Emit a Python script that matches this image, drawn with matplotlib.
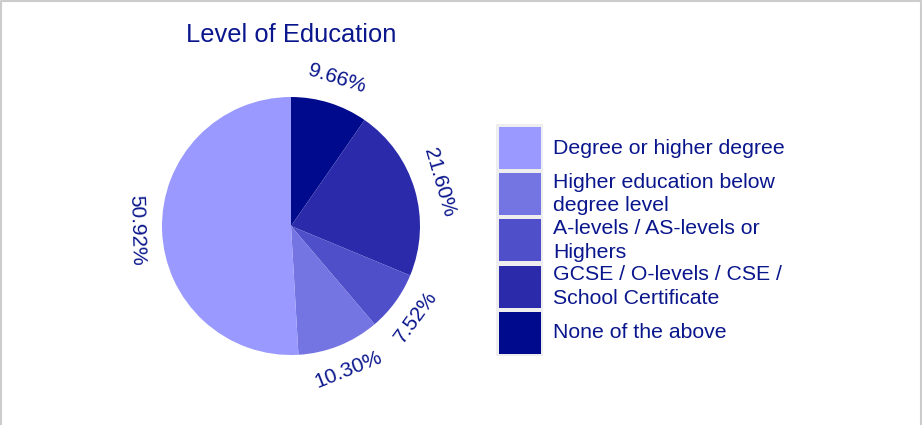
import numpy as np
import matplotlib.pyplot as plt
from matplotlib.patches import Rectangle

# Data (legend order)
categories = ['Degree or higher degree',
              'Higher education below\ndegree level',
              'A-levels / AS-levels or\nHighers',
              'GCSE / O-levels / CSE /\nSchool Certificate',
              'None of the above']
shares = [50.92, 10.30, 7.52, 21.60, 9.66]
colors = ['#9999ff', '#7474e2', '#4f4fca', '#2a2aaa', '#000a8c']
title = 'Level of Education'

txt_col = '#0a168c'
plt.rcParams['font.family'] = ['Liberation Sans', 'DejaVu Sans']

fig = plt.figure(figsize=(9.22, 4.25), dpi=100)
W, H = 922, 425

# pie axes, centre (291, 226) px, radius ~129 px
R = 129
half = 1.35 * R
ax = fig.add_axes([(291 - half) / W, (H - 226 - half) / H, 2 * half / W, 2 * half / H])
ax.axis('off')

pie_vals = shares[::-1]
pie_cols = colors[::-1]
pie_labels = ['%.2f%%' % v for v in pie_vals]
wedges, texts = ax.pie(pie_vals, colors=pie_cols, startangle=90, counterclock=False,
                       labels=pie_labels, labeldistance=1.2,
                       wedgeprops=dict(linewidth=0),
                       textprops=dict(color=txt_col, fontsize=15))
for w, t in zip(wedges, texts):
    mid = (w.theta1 + w.theta2) / 2.0
    rot = ((mid - 90) + 90) % 180 - 90
    t.set_rotation(rot)
    t.set_rotation_mode('anchor')
    t.set_ha('center')
    t.set_va('center')
ax.set_xlim(-1.35, 1.35)
ax.set_ylim(-1.35, 1.35)
ax.set_aspect('equal')

fig.text(291 / W, 1 - 35 / H, title, ha='center', va='center', fontsize=18.4, color=txt_col)

# legend axes in pixel units
lax = fig.add_axes([0, 0, 1, 1])
lax.set_xlim(0, W)
lax.set_ylim(H, 0)
lax.axis('off')
lax.add_patch(Rectangle((496, 124), 47, 232, facecolor='#eeeeee', edgecolor='none'))
for i, (lab, c) in enumerate(zip(categories, colors)):
    y0 = 127 + i * 46.2
    lax.add_patch(Rectangle((499, y0), 42, 42, facecolor=c, edgecolor='none'))
    lax.text(553, y0 + 21, lab, ha='left', va='center', fontsize=15.3,
             color=txt_col, linespacing=1.28)

# light frame (top, left, right)
lax.plot([0.5, 0.5, W - 1.5, W - 1.5], [H, 0.5, 0.5, H], color='#cccccc', lw=1.5)

fig.savefig('out.png', dpi=100)
